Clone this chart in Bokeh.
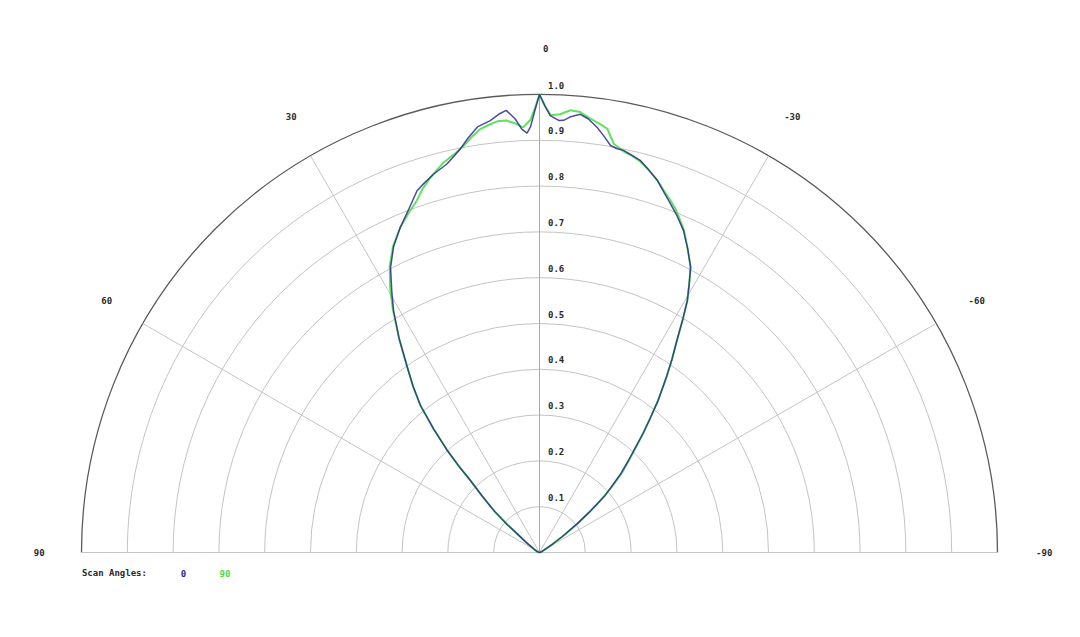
import numpy as np
from bokeh.plotting import figure
from bokeh.models import Range1d
from bokeh.core.properties import value
from bokeh.embed import file_html
from bokeh.resources import INLINE

# ---- data (angle in degrees, positive to the left; normalized intensity) ----
blue_theta = [-90, -70, -62, -57, -55, -52.7, -51, -49, -46, -44, -42.8, -41, -39.5, -38,
              -36, -34.5, -33, -31.5, -30.4, -29, -27.9, -26, -24.1, -22.3, -20.6, -19,
              -17.6, -16, -14.4, -13, -11.8, -10.8, -9.9, -8.8, -7.7, -6.4, -5.3, -4.1,
              -3.2, -2.6, -1.4, -0.7, 0, 0.6, 1.2, 1.7, 2.4, 3.2, 4.3, 5.2, 6.5, 8.3, 9.8,
              11.1, 12.3, 13.4, 15.6, 17.2, 18.7, 21, 23.2, 25.5, 27.6, 29.5, 31.1, 33.3,
              35.5, 37.3, 39, 40.6, 42.1, 43, 43.8, 45.5, 47.4, 49, 50, 53, 58, 70, 90]
blue_r = [0.0, 0.005, 0.012, 0.035, 0.06, 0.103, 0.14, 0.19, 0.245, 0.28, 0.303, 0.345, 0.38,
          0.42, 0.47, 0.51, 0.55, 0.60, 0.638, 0.675, 0.705, 0.738, 0.770, 0.793, 0.813, 0.833,
          0.852, 0.868, 0.884, 0.891, 0.897, 0.898, 0.902, 0.92, 0.937, 0.953, 0.961, 0.954,
          0.945, 0.944, 0.954, 0.975, 1.0, 0.965, 0.93, 0.916, 0.925, 0.948, 0.968, 0.962,
          0.949, 0.939, 0.918, 0.898, 0.884, 0.872, 0.858, 0.846, 0.834, 0.80, 0.772, 0.74,
          0.702, 0.655, 0.617, 0.558, 0.497, 0.455, 0.413, 0.355, 0.30, 0.26, 0.218, 0.175,
          0.135, 0.095, 0.064, 0.035, 0.015, 0.005, 0.0]

green_theta = [-90, -70, -62, -58, -55, -52.7, -50, -48, -46, -44, -42.8, -41, -39.5, -38,
               -36, -34.5, -33, -31.5, -30.4, -29, -27.9, -26, -24.1, -22.3, -21.5, -20.6,
               -19, -17.6, -16, -14.4, -13, -11.8, -10.3, -9.1, -8, -6.5, -5.3, -4.0, -2.7,
               -1.5, -0.7, 0, 0.6, 1.2, 2.2, 3.2, 4.4, 5.6, 6.8, 7.9, 9.2, 10.5, 12, 13.8,
               15, 16.2, 17.8, 19.2, 21, 23.2, 25.5, 27.6, 29.5, 31.1, 33.3, 35.5, 37.3, 39,
               40.6, 42.1, 43, 43.8, 45.5, 47.4, 49, 50, 53, 58, 70, 90]
green_r = [0.0, 0.005, 0.012, 0.03, 0.065, 0.108, 0.165, 0.21, 0.25, 0.283, 0.305, 0.345, 0.38,
           0.42, 0.47, 0.51, 0.55, 0.60, 0.638, 0.675, 0.705, 0.738, 0.772, 0.797, 0.808,
           0.818, 0.835, 0.852, 0.868, 0.882, 0.89, 0.895, 0.907, 0.937, 0.945, 0.955, 0.966,
           0.968, 0.958, 0.955, 0.975, 1.0, 0.97, 0.945, 0.929, 0.938, 0.946, 0.946, 0.94,
           0.934, 0.92, 0.904, 0.89, 0.877, 0.865, 0.853, 0.834, 0.814, 0.795, 0.772, 0.742,
           0.706, 0.662, 0.62, 0.558, 0.497, 0.455, 0.413, 0.355, 0.30, 0.26, 0.218, 0.175,
           0.135, 0.095, 0.064, 0.035, 0.015, 0.005, 0.0]

ring_values = [0.1, 0.2, 0.3, 0.4, 0.5, 0.6, 0.7, 0.8, 0.9, 1.0]
ring_labels = ["0.1", "0.2", "0.3", "0.4", "0.5", "0.6", "0.7", "0.8", "0.9", "1.0"]
spoke_angles = [90, 60, 30, 0, -30, -60, -90]
spoke_labels = ["90", "60", "30", "0", "-30", "-60", "-90"]
legend_title = "Scan Angles:"
series_names = ["0", "90"]
series_colors = ["#25258a", "#44dd44"]

# ---- layout ----
W, H = 1072, 629
CX, CY = 539.0, 552.0   # polar centre in canvas pixels
S = 458.0               # pixels per unit radius

p = figure(width=W, height=H, output_backend="svg", toolbar_location=None,
           x_axis_location=None, y_axis_location=None, min_border=0,
           x_range=Range1d(-CX / S, (W - CX) / S),
           y_range=Range1d(-(H - CY) / S, CY / S))
p.grid.visible = False
p.outline_line_color = None
p.background_fill_color = "white"
p.border_fill_color = "white"

FONT = value("DejaVu Sans Mono")

# rings
for rv in ring_values:
    outer = rv == ring_values[-1]
    p.arc(x=0, y=0, radius=rv, start_angle=0, end_angle=np.pi,
          line_color="#5a5a5a" if outer else "#c4c4c4",
          line_width=1.3 if outer else 1.0)

# spokes
rmax = ring_values[-1]
for a in spoke_angles:
    t = np.deg2rad(a)
    col = "#a8a8a8" if a == 0 else "#c4c4c4"
    p.line(x=[0, -rmax * np.sin(t)], y=[0, rmax * np.cos(t)], line_color=col, line_width=1.0)

# radial labels
p.text(x=[8.5 / S] * len(ring_values), y=[rv + 9.5 / S for rv in ring_values], text=ring_labels,
       text_font=FONT, text_font_size="9px", text_font_style="bold", text_color="#2a2a2a",
       text_align="left", text_baseline="middle")

# angle labels
lab_r = 1.1 * rmax
ax = [-lab_r * np.sin(np.deg2rad(a)) for a in spoke_angles]
ay = [lab_r * np.cos(np.deg2rad(a)) for a in spoke_angles]
p.text(x=ax, y=ay, text=spoke_labels, x_offset=9,
       text_font=FONT, text_font_size="9px", text_font_style="bold", text_color="#2a2a2a",
       text_align="right", text_baseline="middle")

# curves
gt = np.deg2rad(np.array(green_theta))
gr = np.array(green_r)
p.line(x=-gr * np.sin(gt), y=gr * np.cos(gt), line_color=series_colors[1],
       line_width=2.0, line_alpha=0.85)
bt = np.deg2rad(np.array(blue_theta))
br = np.array(blue_r)
p.line(x=-br * np.sin(bt), y=br * np.cos(bt), line_color=series_colors[0],
       line_width=1.5, line_alpha=0.82)

# legend (text row under the chart)
ly = (CY - 572.5) / S
p.text(x=[(81.4 - CX) / S], y=[ly], text=[legend_title],
       text_font=FONT, text_font_size="9px", text_font_style="bold", text_color="#2a2a2a",
       text_align="left", text_baseline="middle")
p.text(x=[(183.0 - CX) / S, (224.5 - CX) / S], y=[ly, ly], text=series_names,
       text_color=series_colors, text_font=FONT, text_font_size="9px",
       text_font_style="bold", text_align="center", text_baseline="middle")

open("out.html", "w").write(file_html(p, INLINE))
